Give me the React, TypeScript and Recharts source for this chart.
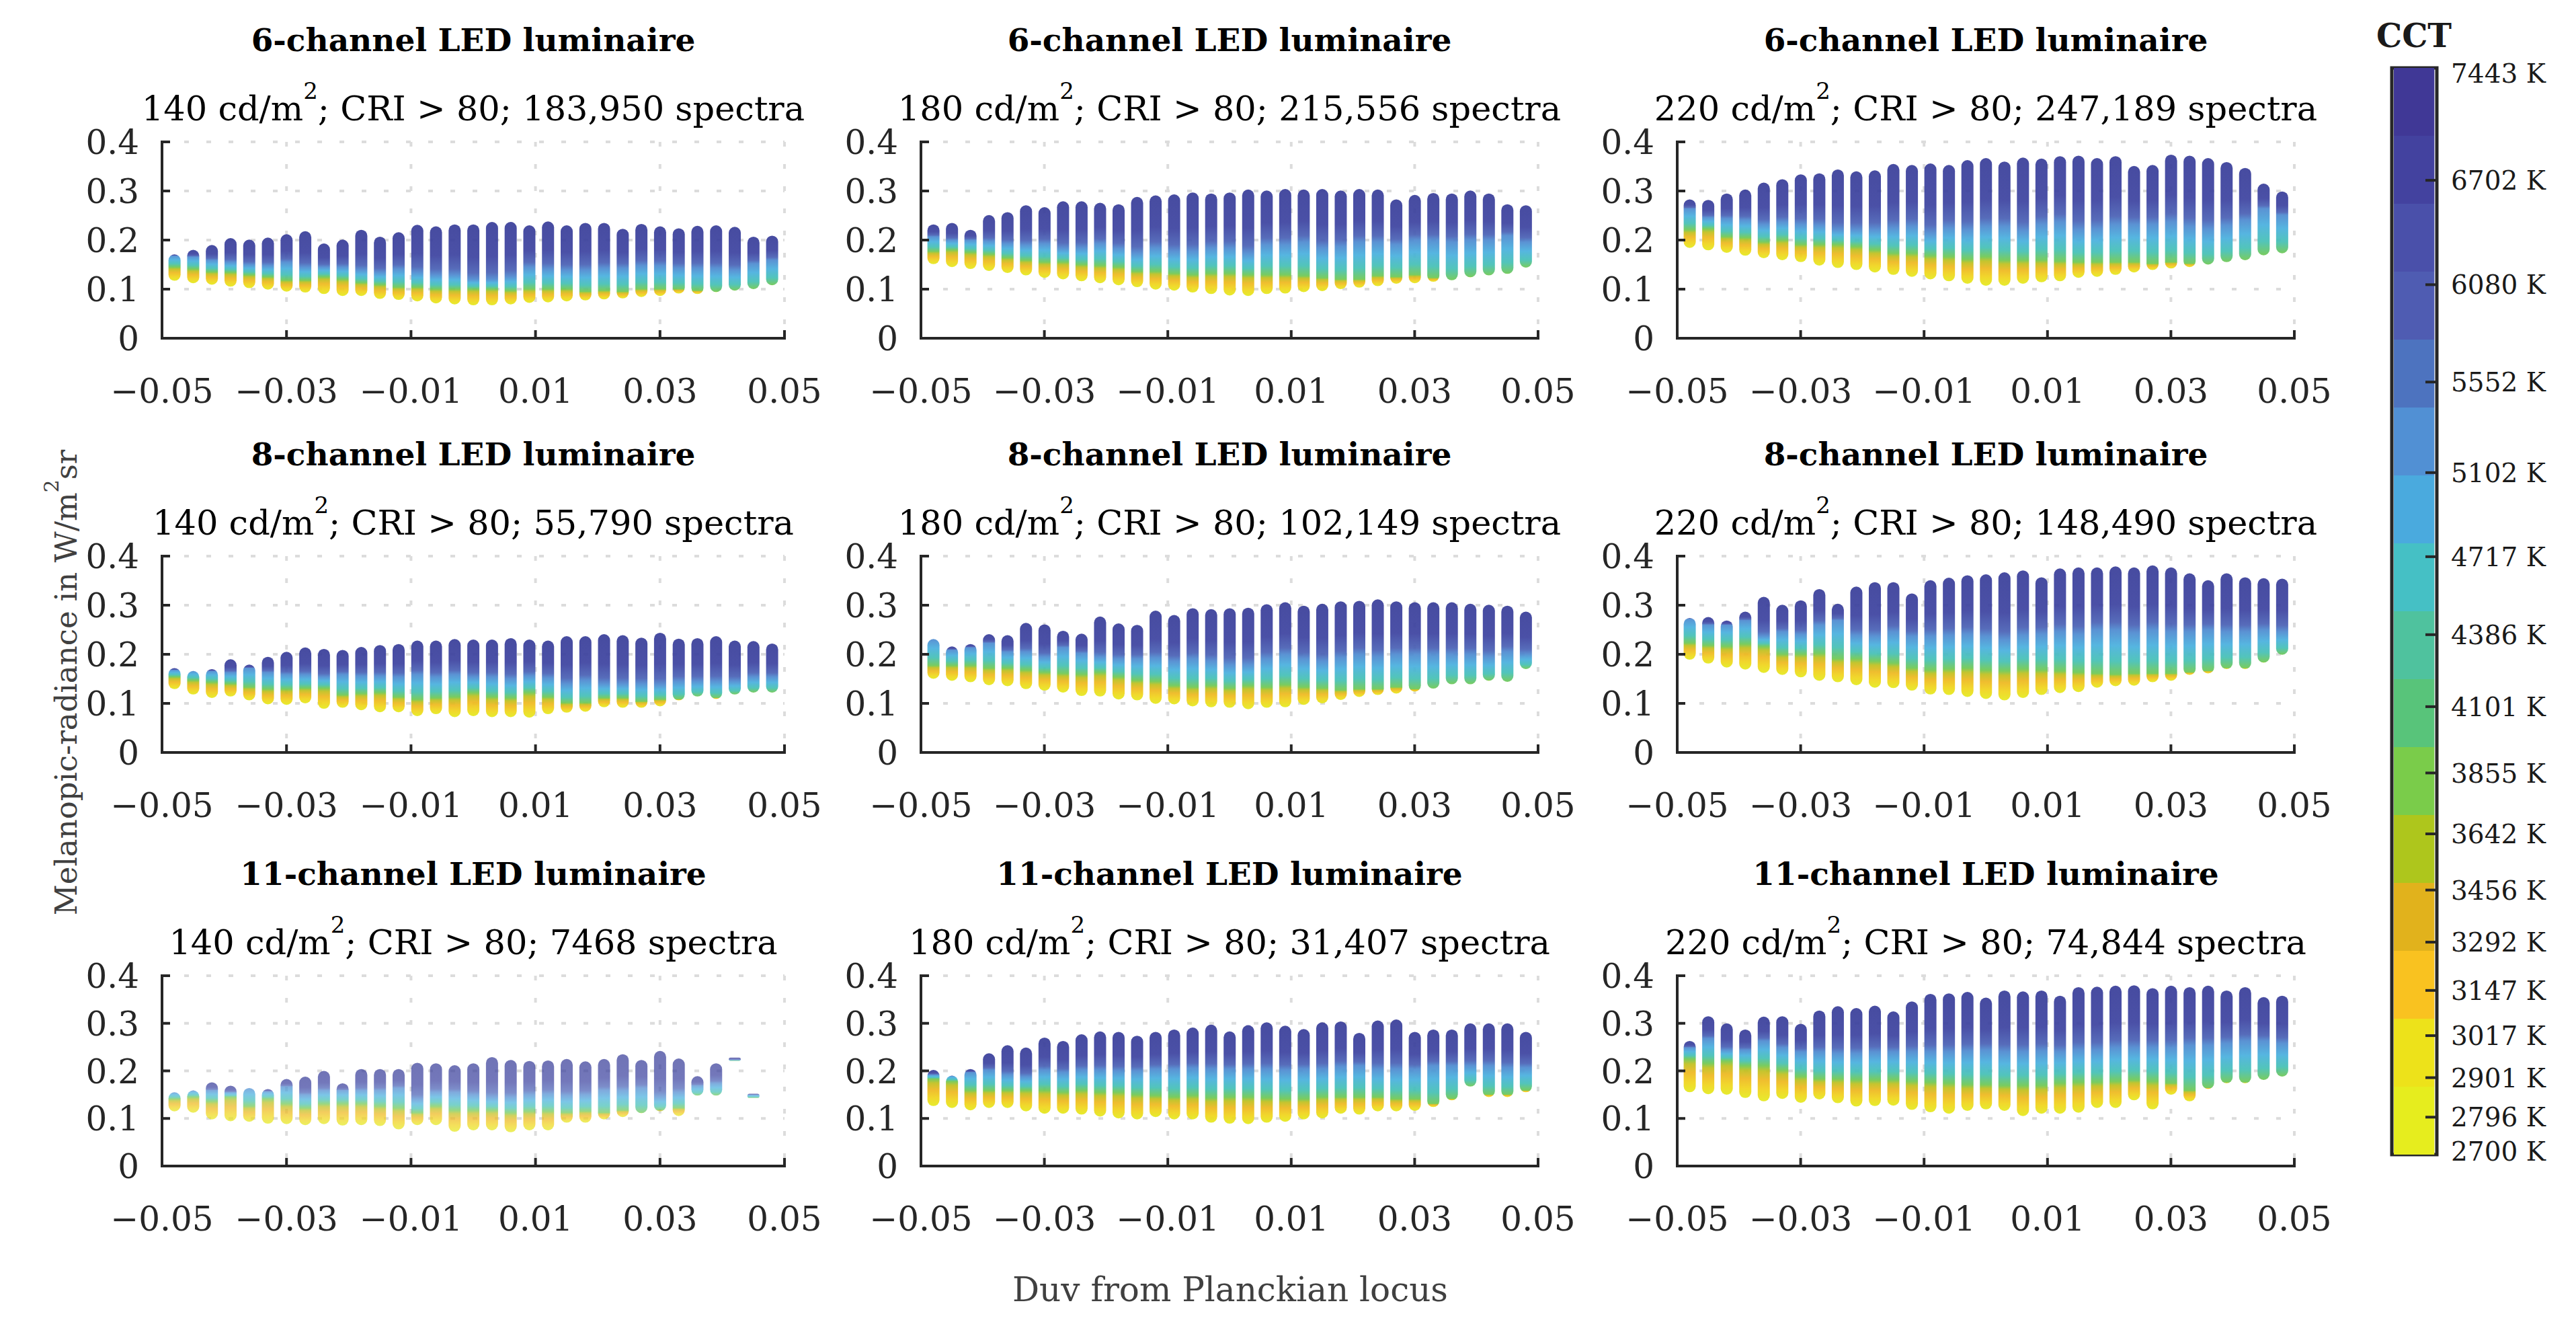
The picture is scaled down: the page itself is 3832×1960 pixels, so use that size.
import React from "react";
import {
  ComposedChart,
  BarChart,
  Bar,
  XAxis,
  YAxis,
  CartesianGrid,
  ReferenceArea,
} from "recharts";

// Duv positions of the spectra columns (same grid in every panel)
const duv = [
  -0.048, -0.045, -0.042, -0.039, -0.036, -0.033, -0.03, -0.027, -0.024, -0.021, -0.018,
  -0.015, -0.012, -0.009, -0.006, -0.003, 0, 0.003, 0.006, 0.009, 0.012, 0.015, 0.018,
  0.021, 0.024, 0.027, 0.03, 0.033, 0.036, 0.039, 0.042, 0.045, 0.048,
];
const xTicks = [-0.05, -0.03, -0.01, 0.01, 0.03, 0.05];
const yTicks = [0, 0.1, 0.2, 0.3, 0.4];

// per column: top of cloud, start of blue (cool) part, start of warm (orange/yellow) part, bottom
const top6_140 = [0.171, 0.18, 0.19, 0.204, 0.201, 0.205, 0.212, 0.218, 0.193, 0.201, 0.221, 0.207, 0.216, 0.231, 0.228, 0.232, 0.232, 0.237, 0.237, 0.23, 0.238, 0.23, 0.235, 0.235, 0.223, 0.233, 0.228, 0.224, 0.229, 0.23, 0.227, 0.207, 0.209];
const cool6_140 = [0.168, 0.166, 0.159, 0.155, 0.15, 0.148, 0.155, 0.145, 0.145, 0.145, 0.139, 0.134, 0.141, 0.134, 0.129, 0.129, 0.12, 0.12, 0.125, 0.145, 0.141, 0.139, 0.139, 0.143, 0.143, 0.148, 0.148, 0.143, 0.143, 0.143, 0.139, 0.152, 0.159];
const warm6_140 = [0.145, 0.141, 0.135, 0.134, 0.129, 0.125, 0.118, 0.118, 0.125, 0.12, 0.113, 0.109, 0.104, 0.104, 0.1, 0.1, 0.1, 0.1, 0.097, 0.1, 0.1, 0.1, 0.095, 0.097, 0.095, 0.1, 0.1, 0.1, 0.097, 0.095, 0.097, 0.1, 0.108];
const low6_140 = [0.117, 0.112, 0.109, 0.105, 0.102, 0.099, 0.095, 0.093, 0.09, 0.086, 0.086, 0.08, 0.078, 0.075, 0.071, 0.069, 0.067, 0.067, 0.069, 0.072, 0.073, 0.075, 0.077, 0.079, 0.081, 0.084, 0.086, 0.091, 0.09, 0.094, 0.097, 0.1, 0.108];

const top6_180 = [0.232, 0.235, 0.221, 0.251, 0.257, 0.271, 0.267, 0.279, 0.279, 0.276, 0.273, 0.288, 0.291, 0.293, 0.297, 0.295, 0.297, 0.303, 0.301, 0.304, 0.303, 0.304, 0.301, 0.304, 0.303, 0.283, 0.292, 0.296, 0.295, 0.301, 0.295, 0.273, 0.271];
const cool6_180 = [0.207, 0.2, 0.2, 0.198, 0.193, 0.19, 0.193, 0.183, 0.184, 0.193, 0.183, 0.173, 0.184, 0.177, 0.177, 0.184, 0.184, 0.173, 0.191, 0.191, 0.196, 0.184, 0.187, 0.196, 0.196, 0.191, 0.2, 0.2, 0.196, 0.2, 0.2, 0.209, 0.196];
const warm6_180 = [0.177, 0.18, 0.175, 0.171, 0.164, 0.159, 0.155, 0.155, 0.15, 0.148, 0.145, 0.136, 0.136, 0.132, 0.129, 0.132, 0.132, 0.129, 0.129, 0.129, 0.127, 0.123, 0.12, 0.12, 0.127, 0.125, 0.129, 0.123, 0.118, 0.124, 0.128, 0.131, 0.144];
const low6_180 = [0.151, 0.145, 0.141, 0.137, 0.133, 0.128, 0.123, 0.12, 0.116, 0.112, 0.108, 0.104, 0.099, 0.097, 0.093, 0.09, 0.087, 0.086, 0.09, 0.091, 0.094, 0.096, 0.1, 0.103, 0.106, 0.111, 0.112, 0.115, 0.118, 0.124, 0.128, 0.131, 0.144];

const top6_220 = [0.283, 0.282, 0.295, 0.303, 0.317, 0.324, 0.334, 0.336, 0.344, 0.34, 0.342, 0.355, 0.353, 0.356, 0.353, 0.363, 0.367, 0.36, 0.368, 0.366, 0.371, 0.372, 0.367, 0.371, 0.351, 0.353, 0.374, 0.372, 0.367, 0.359, 0.347, 0.315, 0.299];
const cool6_220 = [0.264, 0.246, 0.244, 0.241, 0.232, 0.237, 0.232, 0.23, 0.221, 0.221, 0.221, 0.225, 0.228, 0.214, 0.225, 0.221, 0.228, 0.228, 0.219, 0.232, 0.237, 0.221, 0.223, 0.232, 0.232, 0.232, 0.237, 0.228, 0.223, 0.23, 0.241, 0.264, 0.251];
const warm6_220 = [0.221, 0.223, 0.207, 0.205, 0.196, 0.2, 0.191, 0.191, 0.191, 0.187, 0.18, 0.173, 0.173, 0.168, 0.166, 0.161, 0.166, 0.159, 0.159, 0.159, 0.157, 0.155, 0.155, 0.155, 0.155, 0.152, 0.155, 0.152, 0.15, 0.155, 0.159, 0.169, 0.173];
const low6_220 = [0.184, 0.179, 0.174, 0.168, 0.163, 0.159, 0.155, 0.148, 0.143, 0.139, 0.134, 0.129, 0.125, 0.12, 0.116, 0.111, 0.107, 0.107, 0.111, 0.114, 0.116, 0.123, 0.125, 0.129, 0.134, 0.139, 0.142, 0.145, 0.15, 0.155, 0.159, 0.169, 0.173];

const top8_140 = [0.172, 0.166, 0.17, 0.19, 0.179, 0.195, 0.205, 0.214, 0.211, 0.209, 0.215, 0.219, 0.221, 0.228, 0.228, 0.231, 0.23, 0.23, 0.233, 0.23, 0.228, 0.237, 0.237, 0.241, 0.239, 0.234, 0.244, 0.232, 0.233, 0.237, 0.228, 0.227, 0.222];
const cool8_140 = [0.168, 0.166, 0.166, 0.163, 0.172, 0.163, 0.159, 0.159, 0.154, 0.159, 0.156, 0.156, 0.154, 0.159, 0.154, 0.159, 0.154, 0.154, 0.15, 0.156, 0.152, 0.14, 0.147, 0.14, 0.14, 0.14, 0.138, 0.145, 0.145, 0.145, 0.145, 0.154, 0.154];
const warm8_140 = [0.154, 0.147, 0.143, 0.14, 0.133, 0.129, 0.129, 0.131, 0.131, 0.117, 0.12, 0.122, 0.113, 0.108, 0.111, 0.113, 0.122, 0.113, 0.111, 0.122, 0.113, 0.101, 0.101, 0.111, 0.111, 0.104, 0.108, 0.108, 0.114, 0.111, 0.118, 0.122, 0.122];
const low8_140 = [0.129, 0.118, 0.111, 0.114, 0.106, 0.098, 0.097, 0.1, 0.089, 0.091, 0.086, 0.082, 0.082, 0.074, 0.078, 0.072, 0.074, 0.072, 0.072, 0.071, 0.078, 0.081, 0.083, 0.092, 0.091, 0.091, 0.094, 0.106, 0.114, 0.109, 0.118, 0.122, 0.122];

const top8_180 = [0.231, 0.216, 0.221, 0.241, 0.239, 0.264, 0.261, 0.248, 0.242, 0.277, 0.263, 0.26, 0.289, 0.28, 0.294, 0.292, 0.294, 0.295, 0.302, 0.306, 0.299, 0.303, 0.308, 0.309, 0.312, 0.308, 0.306, 0.306, 0.306, 0.303, 0.301, 0.299, 0.287];
const cool8_180 = [0.231, 0.209, 0.214, 0.223, 0.205, 0.205, 0.195, 0.214, 0.202, 0.195, 0.191, 0.191, 0.193, 0.186, 0.191, 0.186, 0.179, 0.179, 0.191, 0.2, 0.191, 0.186, 0.193, 0.2, 0.195, 0.2, 0.2, 0.2, 0.2, 0.2, 0.195, 0.205, 0.2];
const warm8_180 = [0.177, 0.177, 0.177, 0.172, 0.172, 0.168, 0.163, 0.161, 0.159, 0.163, 0.154, 0.147, 0.145, 0.136, 0.133, 0.136, 0.131, 0.136, 0.133, 0.138, 0.133, 0.131, 0.127, 0.129, 0.129, 0.133, 0.129, 0.13, 0.139, 0.139, 0.146, 0.144, 0.17];
const low8_180 = [0.15, 0.146, 0.143, 0.137, 0.135, 0.129, 0.126, 0.122, 0.115, 0.114, 0.108, 0.106, 0.099, 0.098, 0.094, 0.092, 0.091, 0.088, 0.091, 0.092, 0.097, 0.1, 0.107, 0.113, 0.117, 0.12, 0.124, 0.13, 0.139, 0.139, 0.146, 0.144, 0.17];

const top8_220 = [0.274, 0.276, 0.269, 0.287, 0.317, 0.301, 0.31, 0.333, 0.303, 0.338, 0.347, 0.347, 0.324, 0.351, 0.356, 0.361, 0.363, 0.367, 0.371, 0.357, 0.375, 0.377, 0.377, 0.379, 0.377, 0.381, 0.377, 0.365, 0.351, 0.365, 0.357, 0.355, 0.354];
const cool8_220 = [0.273, 0.26, 0.26, 0.269, 0.237, 0.246, 0.241, 0.26, 0.269, 0.239, 0.237, 0.246, 0.237, 0.237, 0.239, 0.241, 0.237, 0.23, 0.239, 0.241, 0.246, 0.241, 0.25, 0.25, 0.244, 0.25, 0.246, 0.246, 0.25, 0.246, 0.246, 0.25, 0.246];
const warm8_220 = [0.223, 0.218, 0.216, 0.221, 0.216, 0.2, 0.2, 0.202, 0.191, 0.191, 0.186, 0.182, 0.172, 0.168, 0.17, 0.172, 0.168, 0.166, 0.17, 0.168, 0.166, 0.163, 0.161, 0.159, 0.161, 0.161, 0.161, 0.163, 0.166, 0.172, 0.172, 0.184, 0.199];
const low8_220 = [0.189, 0.181, 0.173, 0.169, 0.162, 0.158, 0.153, 0.146, 0.143, 0.137, 0.132, 0.131, 0.126, 0.118, 0.117, 0.113, 0.109, 0.106, 0.111, 0.117, 0.121, 0.123, 0.132, 0.135, 0.136, 0.143, 0.146, 0.158, 0.161, 0.17, 0.17, 0.183, 0.199];

const top11_140 = [0.155, 0.159, 0.176, 0.169, 0.164, 0.162, 0.183, 0.188, 0.2, 0.174, 0.204, 0.204, 0.204, 0.217, 0.216, 0.212, 0.216, 0.229, 0.223, 0.221, 0.222, 0.225, 0.22, 0.225, 0.235, 0.223, 0.242, 0.226, 0.189, 0.216, 0.228, 0.152, null];
const cool11_140 = [0.155, 0.159, 0.159, 0.155, 0.164, 0.157, 0.167, 0.15, 0.159, 0.159, 0.159, 0.159, 0.164, 0.141, 0.155, 0.155, 0.15, 0.145, 0.145, 0.15, 0.152, 0.148, 0.15, 0.159, 0.159, 0.164, 0.145, 0.155, 0.169, 0.174, 0.223, 0.15, null];
const warm11_140 = [0.141, 0.145, 0.136, 0.145, 0.126, 0.141, 0.131, 0.122, 0.131, 0.131, 0.131, 0.126, 0.122, 0.112, 0.126, 0.117, 0.117, 0.117, 0.112, 0.115, 0.115, 0.112, 0.115, 0.112, 0.117, 0.112, 0.117, 0.122, 0.148, 0.148, 0.221, 0.143, null];
const low11_140 = [0.115, 0.112, 0.098, 0.094, 0.093, 0.089, 0.088, 0.086, 0.088, 0.085, 0.086, 0.084, 0.077, 0.086, 0.086, 0.072, 0.075, 0.075, 0.071, 0.075, 0.075, 0.091, 0.091, 0.098, 0.103, 0.111, 0.115, 0.105, 0.148, 0.148, 0.221, 0.143, null];

const top11_180 = [0.202, 0.19, 0.204, 0.237, 0.254, 0.249, 0.27, 0.263, 0.277, 0.283, 0.282, 0.274, 0.282, 0.287, 0.291, 0.297, 0.283, 0.296, 0.302, 0.295, 0.288, 0.302, 0.304, 0.28, 0.306, 0.308, 0.282, 0.287, 0.287, 0.3, 0.3, 0.3, 0.282];
const cool11_180 = [0.192, 0.19, 0.197, 0.202, 0.192, 0.188, 0.202, 0.197, 0.202, 0.202, 0.2, 0.2, 0.204, 0.204, 0.206, 0.204, 0.204, 0.204, 0.204, 0.202, 0.204, 0.204, 0.209, 0.211, 0.204, 0.204, 0.204, 0.211, 0.211, 0.211, 0.211, 0.207, 0.207];
const warm11_180 = [0.183, 0.178, 0.159, 0.159, 0.159, 0.159, 0.159, 0.155, 0.159, 0.155, 0.155, 0.15, 0.148, 0.145, 0.148, 0.143, 0.145, 0.145, 0.143, 0.141, 0.141, 0.145, 0.145, 0.145, 0.145, 0.141, 0.141, 0.131, 0.141, 0.167, 0.15, 0.15, 0.159];
const low11_180 = [0.126, 0.122, 0.117, 0.122, 0.122, 0.115, 0.11, 0.11, 0.108, 0.104, 0.1, 0.098, 0.103, 0.098, 0.098, 0.091, 0.089, 0.088, 0.091, 0.093, 0.098, 0.1, 0.11, 0.108, 0.115, 0.115, 0.116, 0.124, 0.138, 0.167, 0.145, 0.145, 0.155];

const top11_220 = [0.263, 0.315, 0.3, 0.287, 0.314, 0.315, 0.299, 0.327, 0.336, 0.332, 0.337, 0.325, 0.346, 0.362, 0.363, 0.366, 0.354, 0.369, 0.367, 0.369, 0.358, 0.376, 0.377, 0.379, 0.38, 0.374, 0.379, 0.376, 0.379, 0.369, 0.376, 0.355, 0.358];
const cool11_220 = [0.249, 0.268, 0.244, 0.244, 0.263, 0.249, 0.24, 0.24, 0.237, 0.237, 0.24, 0.24, 0.24, 0.24, 0.24, 0.242, 0.244, 0.24, 0.24, 0.242, 0.24, 0.244, 0.244, 0.249, 0.249, 0.249, 0.249, 0.254, 0.254, 0.258, 0.263, 0.263, 0.258];
const warm11_220 = [0.225, 0.216, 0.221, 0.211, 0.211, 0.202, 0.188, 0.183, 0.183, 0.181, 0.181, 0.181, 0.178, 0.176, 0.174, 0.171, 0.171, 0.169, 0.169, 0.169, 0.174, 0.176, 0.176, 0.178, 0.181, 0.178, 0.174, 0.159, 0.164, 0.176, 0.176, 0.181, 0.188];
const low11_220 = [0.155, 0.151, 0.15, 0.143, 0.136, 0.141, 0.133, 0.14, 0.132, 0.125, 0.126, 0.127, 0.118, 0.113, 0.11, 0.116, 0.119, 0.116, 0.105, 0.11, 0.11, 0.112, 0.122, 0.122, 0.138, 0.119, 0.15, 0.136, 0.162, 0.174, 0.174, 0.181, 0.188];

const rowTitles = ["6-channel LED luminaire", "8-channel LED luminaire", "11-channel LED luminaire"];
const luminances = [140, 180, 220];
const spectraCounts = [
  ["183,950", "215,556", "247,189"],
  ["55,790", "102,149", "148,490"],
  ["7468", "31,407", "74,844"],
];
const panelSeries = [
  [[top6_140, cool6_140, warm6_140, low6_140], [top6_180, cool6_180, warm6_180, low6_180], [top6_220, cool6_220, warm6_220, low6_220]],
  [[top8_140, cool8_140, warm8_140, low8_140], [top8_180, cool8_180, warm8_180, low8_180], [top8_220, cool8_220, warm8_220, low8_220]],
  [[top11_140, cool11_140, warm11_140, low11_140], [top11_180, cool11_180, warm11_180, low11_180], [top11_220, cool11_220, warm11_220, low11_220]],
];

// colorbar
const cctTicks = [2700, 2796, 2901, 3017, 3147, 3292, 3456, 3642, 3855, 4101, 4386, 4717, 5102, 5552, 6080, 6702, 7443];
const cctBandColors = [
  "#e6ed1e", "#ede21a", "#f9c220", "#e1b21c", "#aec61c", "#7acc4a", "#58c47a", "#4fc29e",
  "#45c0c5", "#4aaade", "#5190d4", "#4d73bf", "#4f5cb2", "#4a50aa", "#43429f", "#403896",
];

// layout
const colLeft = [241, 1370, 2495];
const colWidth = [926, 918, 918];
const rowTop = [211, 827, 1451];
const rowHeight = [292, 292, 283];
const ML = 230, MT = 30, MR = 110, MB = 120;
const TEXT = "#262626";
const FONT = "DejaVu Serif";

const clamp = (v: number) => Math.max(0, Math.min(1, v));

function Column(props: any) {
  const { x, y, width, height, payload, alpha } = props;
  if (!payload || !isFinite(y) || !isFinite(height)) return null;
  const top = Math.min(y, y + height);
  const h = Math.max(Math.abs(height), 2);
  const span = payload.high - payload.low || 1;
  const tb = clamp((payload.high - payload.cool) / span);
  const tg = Math.max(tb, clamp((payload.high - payload.warm) / span));
  const m = tg - tb;
  const gid = `col-${payload.id}`;
  return (
    <g>
      <defs>
        <linearGradient id={gid} x1="0" y1="0" x2="0" y2="1">
          <stop offset={0} stopColor="#393e99" />
          <stop offset={tb * 0.6} stopColor="#3d43a0" />
          <stop offset={tb * 0.88} stopColor="#4a61b5" />
          <stop offset={tb} stopColor="#4e8ad0" />
          <stop offset={tb + m * 0.35} stopColor="#49b0de" />
          <stop offset={tb + m * 0.7} stopColor="#45c0b5" />
          <stop offset={tg} stopColor="#6fc853" />
          <stop offset={tg + (1 - tg) * 0.15} stopColor="#c0c01f" />
          <stop offset={tg + (1 - tg) * 0.4} stopColor="#eeb81f" />
          <stop offset={tg + (1 - tg) * 0.7} stopColor="#f0d41c" />
          <stop offset={1} stopColor="#e4ea1e" />
        </linearGradient>
      </defs>
      <rect
        x={x}
        y={top}
        width={width}
        height={h}
        rx={Math.min(width / 2, h / 2)}
        fill={`url(#${gid})`}
        fillOpacity={alpha}
      />
    </g>
  );
}

function Panel({ r, c }: { r: number; c: number }) {
  const [tops, cools, warms, lows] = panelSeries[r][c];
  const W = colWidth[c];
  const H = rowHeight[r];
  const rows = duv
    .map((x, i) =>
      tops[i] == null
        ? null
        : { x, id: `${r}${c}-${i}`, high: tops[i], cool: cools[i], warm: warms[i], low: lows[i] }
    )
    .filter(Boolean) as any[];
  const alpha = r === 2 && c === 0 ? 0.72 : 0.93;
  const base = MT + H;

  const xTick = (p: any) => (
    <g>
      <line x1={p.x} x2={p.x} y1={base} y2={base - 12} stroke={TEXT} strokeWidth={4} />
      <text x={p.x} y={base + 96} textAnchor="middle" fontFamily={FONT} fontSize={50} fill={TEXT}>
        {(p.payload.value < 0 ? "\u2212" : "") + Math.abs(p.payload.value).toFixed(2)}
      </text>
    </g>
  );
  const yTick = (p: any) => (
    <g>
      <line x1={ML} x2={ML + 12} y1={p.y} y2={p.y} stroke={TEXT} strokeWidth={4} />
      <text x={ML - 34} y={p.y} dy="0.36em" textAnchor="end" fontFamily={FONT} fontSize={50} fill={TEXT}>
        {p.payload.value === 0 ? "0" : p.payload.value.toFixed(1)}
      </text>
    </g>
  );

  return (
    <div style={{ position: "absolute", left: colLeft[c] - ML, top: rowTop[r] - MT }}>
      <ComposedChart
        width={ML + W + MR}
        height={MT + H + MB}
        data={rows}
        margin={{ top: MT, right: MR, left: 0, bottom: 0 }}
      >
        <CartesianGrid stroke="#dcdcdc" strokeWidth={4} strokeDasharray="7 26" />
        <XAxis
          type="number"
          dataKey="x"
          domain={[-0.05, 0.05]}
          ticks={xTicks}
          interval={0}
          allowDataOverflow
          height={MB}
          axisLine={{ stroke: TEXT, strokeWidth: 4, strokeLinecap: "square" }}
          tickLine={false}
          tick={xTick}
        />
        <YAxis
          type="number"
          domain={[0, 0.4]}
          ticks={yTicks}
          interval={0}
          allowDataOverflow
          width={ML}
          axisLine={{ stroke: TEXT, strokeWidth: 4, strokeLinecap: "square" }}
          tickLine={false}
          tick={yTick}
        />
        <Bar
          dataKey={(d: any) => [d.low, d.high]}
          barSize={18}
          isAnimationActive={false}
          shape={(p: any) => <Column {...p} alpha={alpha} />}
        />
      </ComposedChart>
    </div>
  );
}

function ColorBar() {
  const left = 3500, top = 40, w = 332, h = 1720;
  const mLeft = 58, mTop = 61, mBottom = 43, barW = 67;
  const barRight = mLeft + barW;
  const bandRow = [Object.fromEntries(cctBandColors.map((_, i) => [`b${i}`, 1]))];
  const cbTick = (p: any) => {
    const v = p.payload.value;
    const isEnd = v === cctTicks[0] || v === cctTicks[cctTicks.length - 1];
    const shift = v === cctTicks[cctTicks.length - 1] ? 8 : v === cctTicks[0] ? -5 : 0;
    return (
      <g>
        {!isEnd && (
          <line x1={barRight - 17} x2={barRight} y1={p.y} y2={p.y} stroke={TEXT} strokeWidth={4} />
        )}
        <text x={146} y={p.y + shift} dy="0.36em" fontFamily={FONT} fontSize={39} fill="#1a1a1a">
          {`${v} K`}
        </text>
      </g>
    );
  };
  return (
    <div style={{ position: "absolute", left, top }}>
      <BarChart
        width={w}
        height={h}
        data={bandRow}
        margin={{ top: mTop, right: 0, left: mLeft, bottom: mBottom }}
        barCategoryGap={0}
      >
        <XAxis hide type="category" />
        <YAxis yAxisId="band" hide type="number" domain={[0, 16]} />
        <YAxis
          yAxisId="cct"
          orientation="right"
          type="number"
          scale="log"
          domain={[2700, 7443]}
          ticks={cctTicks}
          interval={0}
          allowDataOverflow
          width={w - mLeft - barW}
          axisLine={false}
          tickLine={false}
          tick={cbTick}
        />
        {cctBandColors.map((col, i) => (
          <Bar
            key={i}
            yAxisId="band"
            dataKey={`b${i}`}
            stackId="cb"
            fill={col}
            barSize={barW}
            isAnimationActive={false}
          />
        ))}
        <ReferenceArea yAxisId="band" y1={0} y2={16} fill="none" stroke={TEXT} strokeWidth={5} ifOverflow="visible" />
      </BarChart>
    </div>
  );
}

export default function App() {
  return (
    <div
      style={{
        position: "absolute",
        left: 0,
        top: 0,
        width: 3832,
        height: 1960,
        background: "#ffffff",
        fontFamily: FONT,
        overflow: "hidden",
      }}
    >
      <svg width={3832} height={1960} style={{ position: "absolute", left: 0, top: 0 }}>
        {rowTitles.map((t, r) =>
          colLeft.map((cl, c) => {
            const cx = cl + colWidth[c] / 2;
            return (
              <g key={`${r}-${c}`} fontFamily={FONT}>
                <text x={cx} y={rowTop[r] - 135} textAnchor="middle" fontWeight="bold" fontSize={47} fill="#000">
                  {t}
                </text>
                <text x={cx} y={rowTop[r] - 32} textAnchor="middle" fontSize={51} fill="#000">
                  {`${luminances[c]} cd/m`}
                  <tspan fontSize={34} dy={-32}>2</tspan>
                  <tspan dy={32}>{`; CRI > 80; ${spectraCounts[r][c]} spectra`}</tspan>
                </text>
              </g>
            );
          })
        )}
        <text
          x={98}
          y={1015}
          transform="rotate(-90 98 1015)"
          textAnchor="middle"
          dominantBaseline="central"
          fontFamily={FONT}
          fontSize={45}
          fill="#404040"
        >
          Melanopic-radiance in W/m
          <tspan fontSize={30} dy={-22}>2</tspan>
          <tspan dy={22}>sr</tspan>
        </text>
        <text x={1830} y={1935} textAnchor="middle" fontFamily={FONT} fontSize={50} fill="#404040">
          Duv from Planckian locus
        </text>
        <text x={3591} y={70} textAnchor="middle" fontFamily={FONT} fontWeight="bold" fontSize={48} fill="#1a1a1a">
          CCT
        </text>
      </svg>
      {[0, 1, 2].map((r) => [0, 1, 2].map((c) => <Panel key={`${r}${c}`} r={r} c={c} />))}
      <ColorBar />
    </div>
  );
}
